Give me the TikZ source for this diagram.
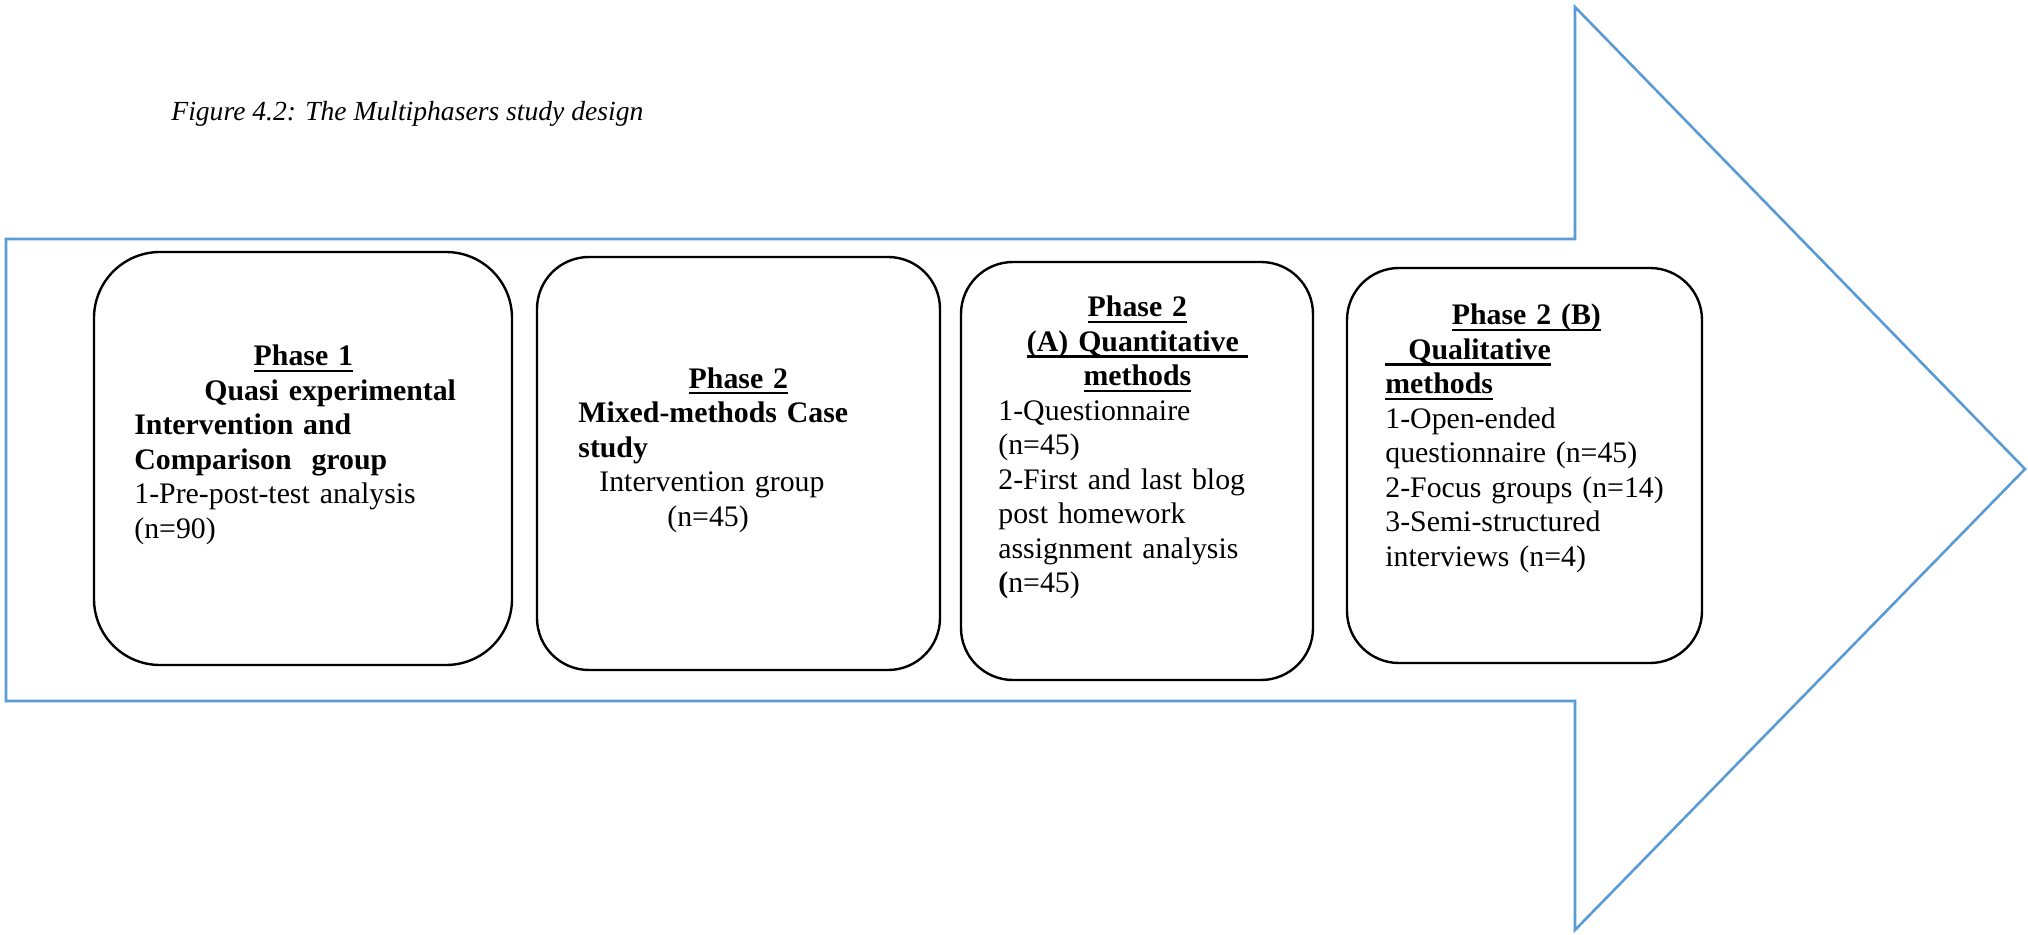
\documentclass[tikz,border=0pt]{standalone}
\usepackage{fontspec}
\setmainfont{Liberation Serif}
\definecolor{arrowblue}{RGB}{91,155,213}
\newcommand{\ulined}[1]{\setbox0\hbox{#1}\rlap{\rule[-3.2pt]{\wd0}{1.2pt}}\box0}
\newcommand{\ctrline}[1]{\makebox[\linewidth][c]{#1}}

\begin{document}
\begin{tikzpicture}[x=0.5pt,y=-0.5pt,
  phasebox/.style={draw, line width=1.2pt, rounded corners=26pt, inner sep=0pt},
  phasetext/.style={anchor=base west, inner sep=0pt, align=left,
    font=\fontsize{14.9}{17.25}\selectfont}]
\useasboundingbox (0,0) rectangle (2028,935);
% Caption
\node[phasetext, font=\fontsize{13.8}{16}\selectfont\itshape] (caption) at (171,121)
  {Figure 4.2: The Multiphasers study design};
% Arrow
\draw[arrowblue, line width=1.3pt, line join=miter] (6,239) -- (1575,239) -- (1575,7)
  -- (2025,469) -- (1575,930) -- (1575,701) -- (6,701) -- cycle;
% Phase boxes
\node[phasebox, rounded corners=33pt, minimum width=209pt, minimum height=206.5pt] (box1) at (303,458.5) {};
\node[phasebox, minimum width=201.5pt, minimum height=206.5pt] (box2) at (738.5,463.5) {};
\node[phasebox, minimum width=176pt, minimum height=209pt] (box3) at (1137,471) {};
\node[phasebox, minimum width=177.5pt, minimum height=197.5pt] (box4) at (1524.5,465.5) {};
% Box texts
\node[phasetext, text width=169pt] (text1) at (134,366)
  {\ctrline{\bfseries\ulined{Phase 1}}\\
   \hspace*{35pt}\textbf{Quasi experimental}\\
   \textbf{Intervention and}\\
   \textbf{Comparison\ \ group}\\
   1-Pre-post-test analysis\\
   (n=90)};
\node[phasetext, text width=160pt] (text2) at (578,388)
  {\ctrline{\bfseries\ulined{Phase 2}}\\
   \textbf{Mixed-methods Case}\\
   \textbf{study}\\
   \hspace*{10.5pt}Intervention group\\
   \hspace*{44.5pt}(n=45)};
\node[phasetext, text width=139pt] (text3) at (998,317)
  {\ctrline{\bfseries\ulined{Phase 2}}\\
   \ctrline{\bfseries\ulined{(A) Quantitative\hspace{4.5pt}}}\\
   \ctrline{\bfseries\ulined{methods}}\\
   1-Questionnaire\\
   (n=45)\\
   2-First and last blog\\
   post homework\\
   assignment analysis\\
   \textbf{(}n=45)};
\node[phasetext, text width=141pt] (text4) at (1385,325)
  {\ctrline{\bfseries\ulined{Phase 2 (B)}}\\
   \textbf{\ulined{\hspace*{11.5pt}Qualitative}}\\
   \textbf{\ulined{methods}}\\
   1-Open-ended\\
   questionnaire (n=45)\\
   2-Focus groups (n=14)\\
   3-Semi-structured\\
   interviews (n=4)};
\end{tikzpicture}
\end{document}
